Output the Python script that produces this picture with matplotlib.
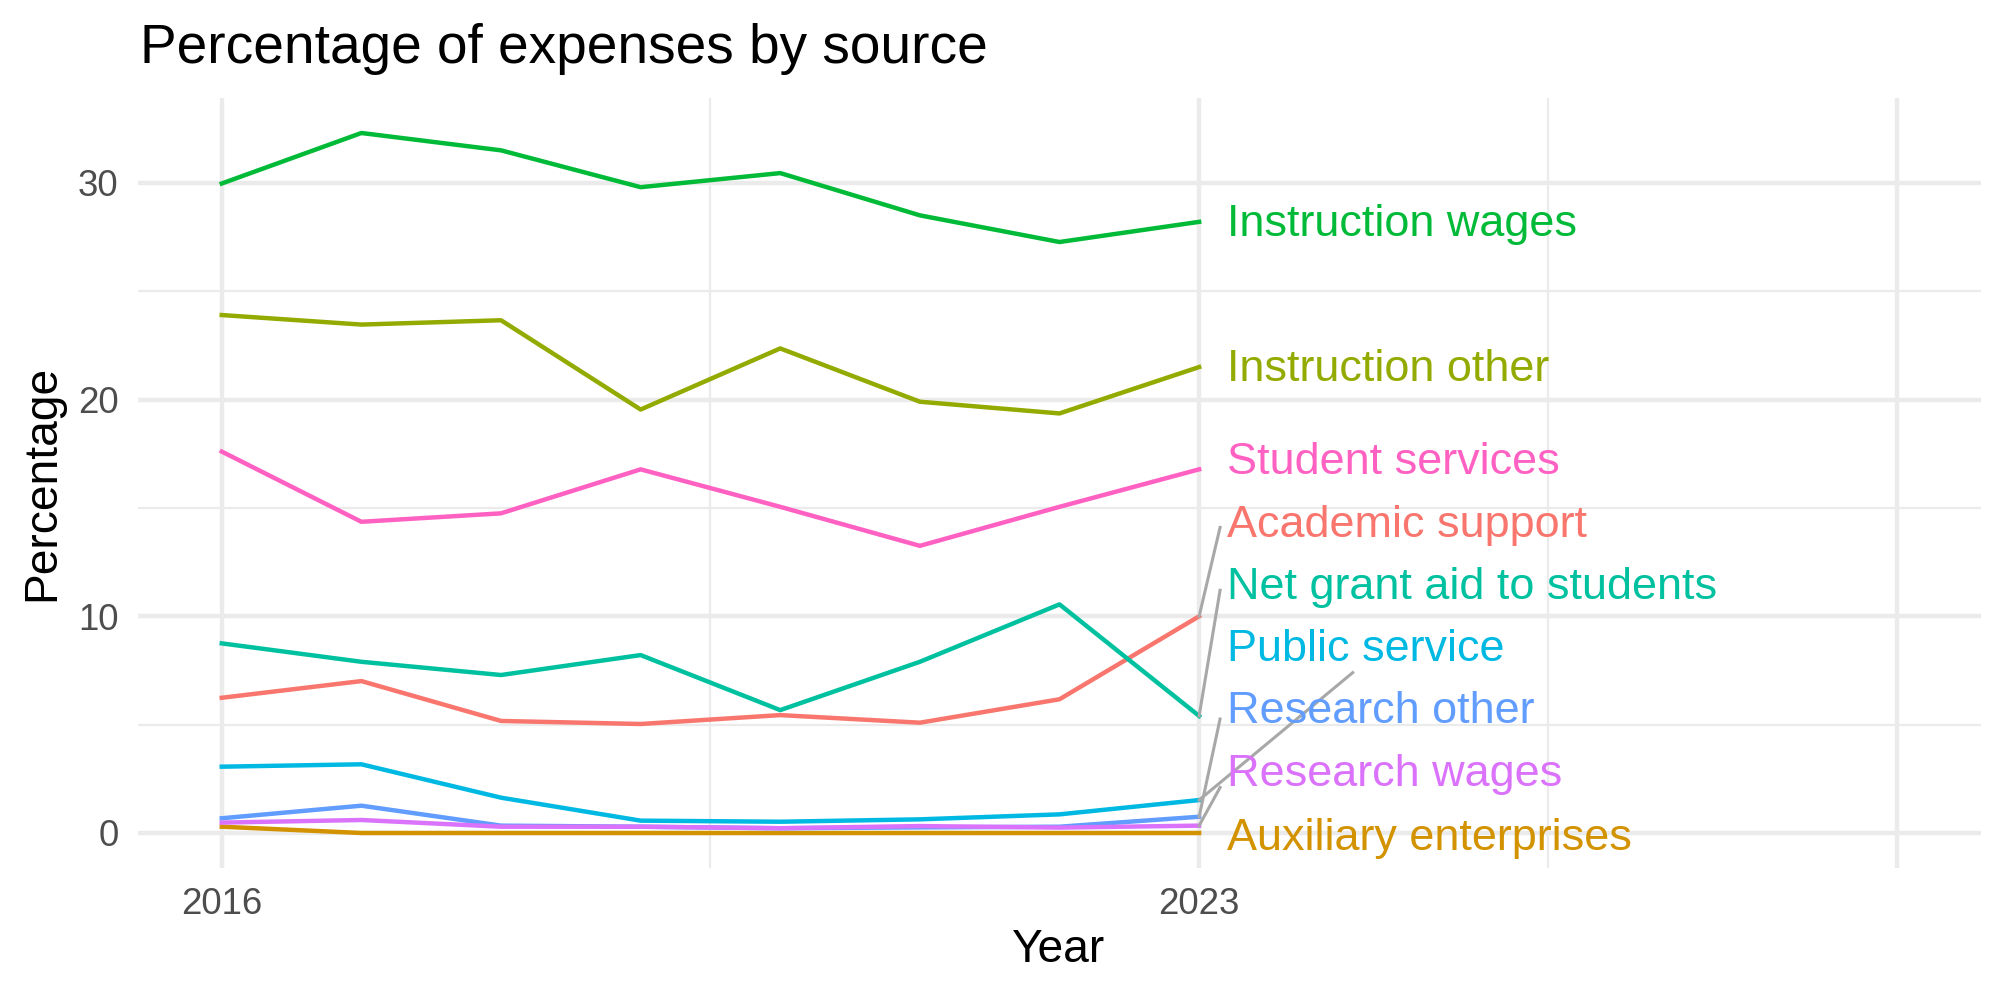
import matplotlib
matplotlib.use("Agg")
import matplotlib.pyplot as plt
import numpy as np

plt.rcParams['font.family'] = ['Liberation Sans', 'DejaVu Sans']

years = [2016, 2017, 2018, 2019, 2020, 2021, 2022, 2023]

# series in ggplot's (alphabetical) drawing order
sources = ['Academic support', 'Auxiliary enterprises', 'Instruction other',
           'Instruction wages', 'Net grant aid to students', 'Public service',
           'Research other', 'Research wages', 'Student services']

academic_support = [6.24, 7.01, 5.17, 5.03, 5.44, 5.09, 6.17, 10.0]
auxiliary_enterprises = [0.29, 0.0, 0.0, 0.0, 0.0, 0.0, 0.0, 0.0]
instruction_other = [23.9, 23.46, 23.66, 19.54, 22.36, 19.9, 19.36, 21.5]
instruction_wages = [29.97, 32.3, 31.5, 29.8, 30.45, 28.5, 27.27, 28.2]
net_grant_aid = [8.75, 7.9, 7.29, 8.21, 5.67, 7.9, 10.55, 5.4]
public_service = [3.06, 3.17, 1.63, 0.57, 0.52, 0.63, 0.86, 1.52]
research_other = [0.68, 1.26, 0.34, 0.29, 0.22, 0.26, 0.29, 0.75]
research_wages = [0.48, 0.6, 0.29, 0.29, 0.22, 0.32, 0.25, 0.34]
student_services = [17.6, 14.36, 14.75, 16.78, 15.05, 13.25, 15.05, 16.78]

values = [academic_support, auxiliary_enterprises, instruction_other,
          instruction_wages, net_grant_aid, public_service,
          research_other, research_wages, student_services]

colors = ['#F8766D', '#D39200', '#93AA00', '#00BA38', '#00C19F',
          '#00B9E3', '#619CFF', '#DB72FB', '#FF61C3']

# repelled label layout (label y, and where the leader segment ends, None = no segment)
label_x = 2023.2
label_y = [14.2, -0.25, 21.4, 28.1, 11.35, 8.45, 5.6, 2.7, 17.1]
seg_end = [(2023.15, 14.1), None, None, None, (2023.15, 11.2),
           (2024.1, 7.4), (2023.15, 5.26), (2023.15, 2.1), None]

fig = plt.figure(figsize=(10, 5), dpi=200)
ax = fig.add_axes([0.069, 0.132, 0.9215, 0.770])

# grid (theme_minimal look)
for x in [2016, 2023, 2028]:
    ax.axvline(x, color='#EBEBEB', lw=1.6, zorder=0)
for x in [2019.5, 2025.5]:
    ax.axvline(x, color='#EBEBEB', lw=0.8, zorder=0)
for y in [0, 10, 20, 30]:
    ax.axhline(y, color='#EBEBEB', lw=1.6, zorder=0)
for y in [5, 15, 25]:
    ax.axhline(y, color='#EBEBEB', lw=0.8, zorder=0)

for name, vals, col in zip(sources, values, colors):
    ax.plot(years, vals, color=col, lw=1.6, zorder=2)

for name, vals, col, ly, se in zip(sources, values, colors, label_y, seg_end):
    if se is not None:
        ax.plot([years[-1], se[0]], [vals[-1], se[1]], color='#A8A8A8',
                lw=1.1, zorder=3)
    ax.text(label_x, ly, name, color=col, fontsize=16.2, ha='left',
            va='center', zorder=4)

allv = np.concatenate(values)
ymin, ymax = allv.min(), allv.max()
yr = ymax - ymin
ax.set_ylim(ymin - 0.05 * yr, ymax + 0.05 * yr)
ax.set_xlim(2016 - 0.05 * 12, 2028 + 0.05 * 12)

ax.set_xticks([2016, 2023])
ax.set_xticklabels(['2016', '2023'])
ax.set_yticks([0, 10, 20, 30])
ax.tick_params(length=0, labelsize=13.2, labelcolor='#4D4D4D', pad=7.0)
for s in ax.spines.values():
    s.set_visible(False)

fig.text(0.07, 1 - 63 / 1000, 'Percentage of expenses by source',
         fontsize=19.8, ha='left', va='baseline')
fig.text(0.5295, 0.05, 'Year', fontsize=16.6, ha='center', va='center')
fig.text(0.021, 0.517, 'Percentage', fontsize=16.6, ha='center', va='center',
         rotation=90)

fig.savefig('out.png', dpi=200)
